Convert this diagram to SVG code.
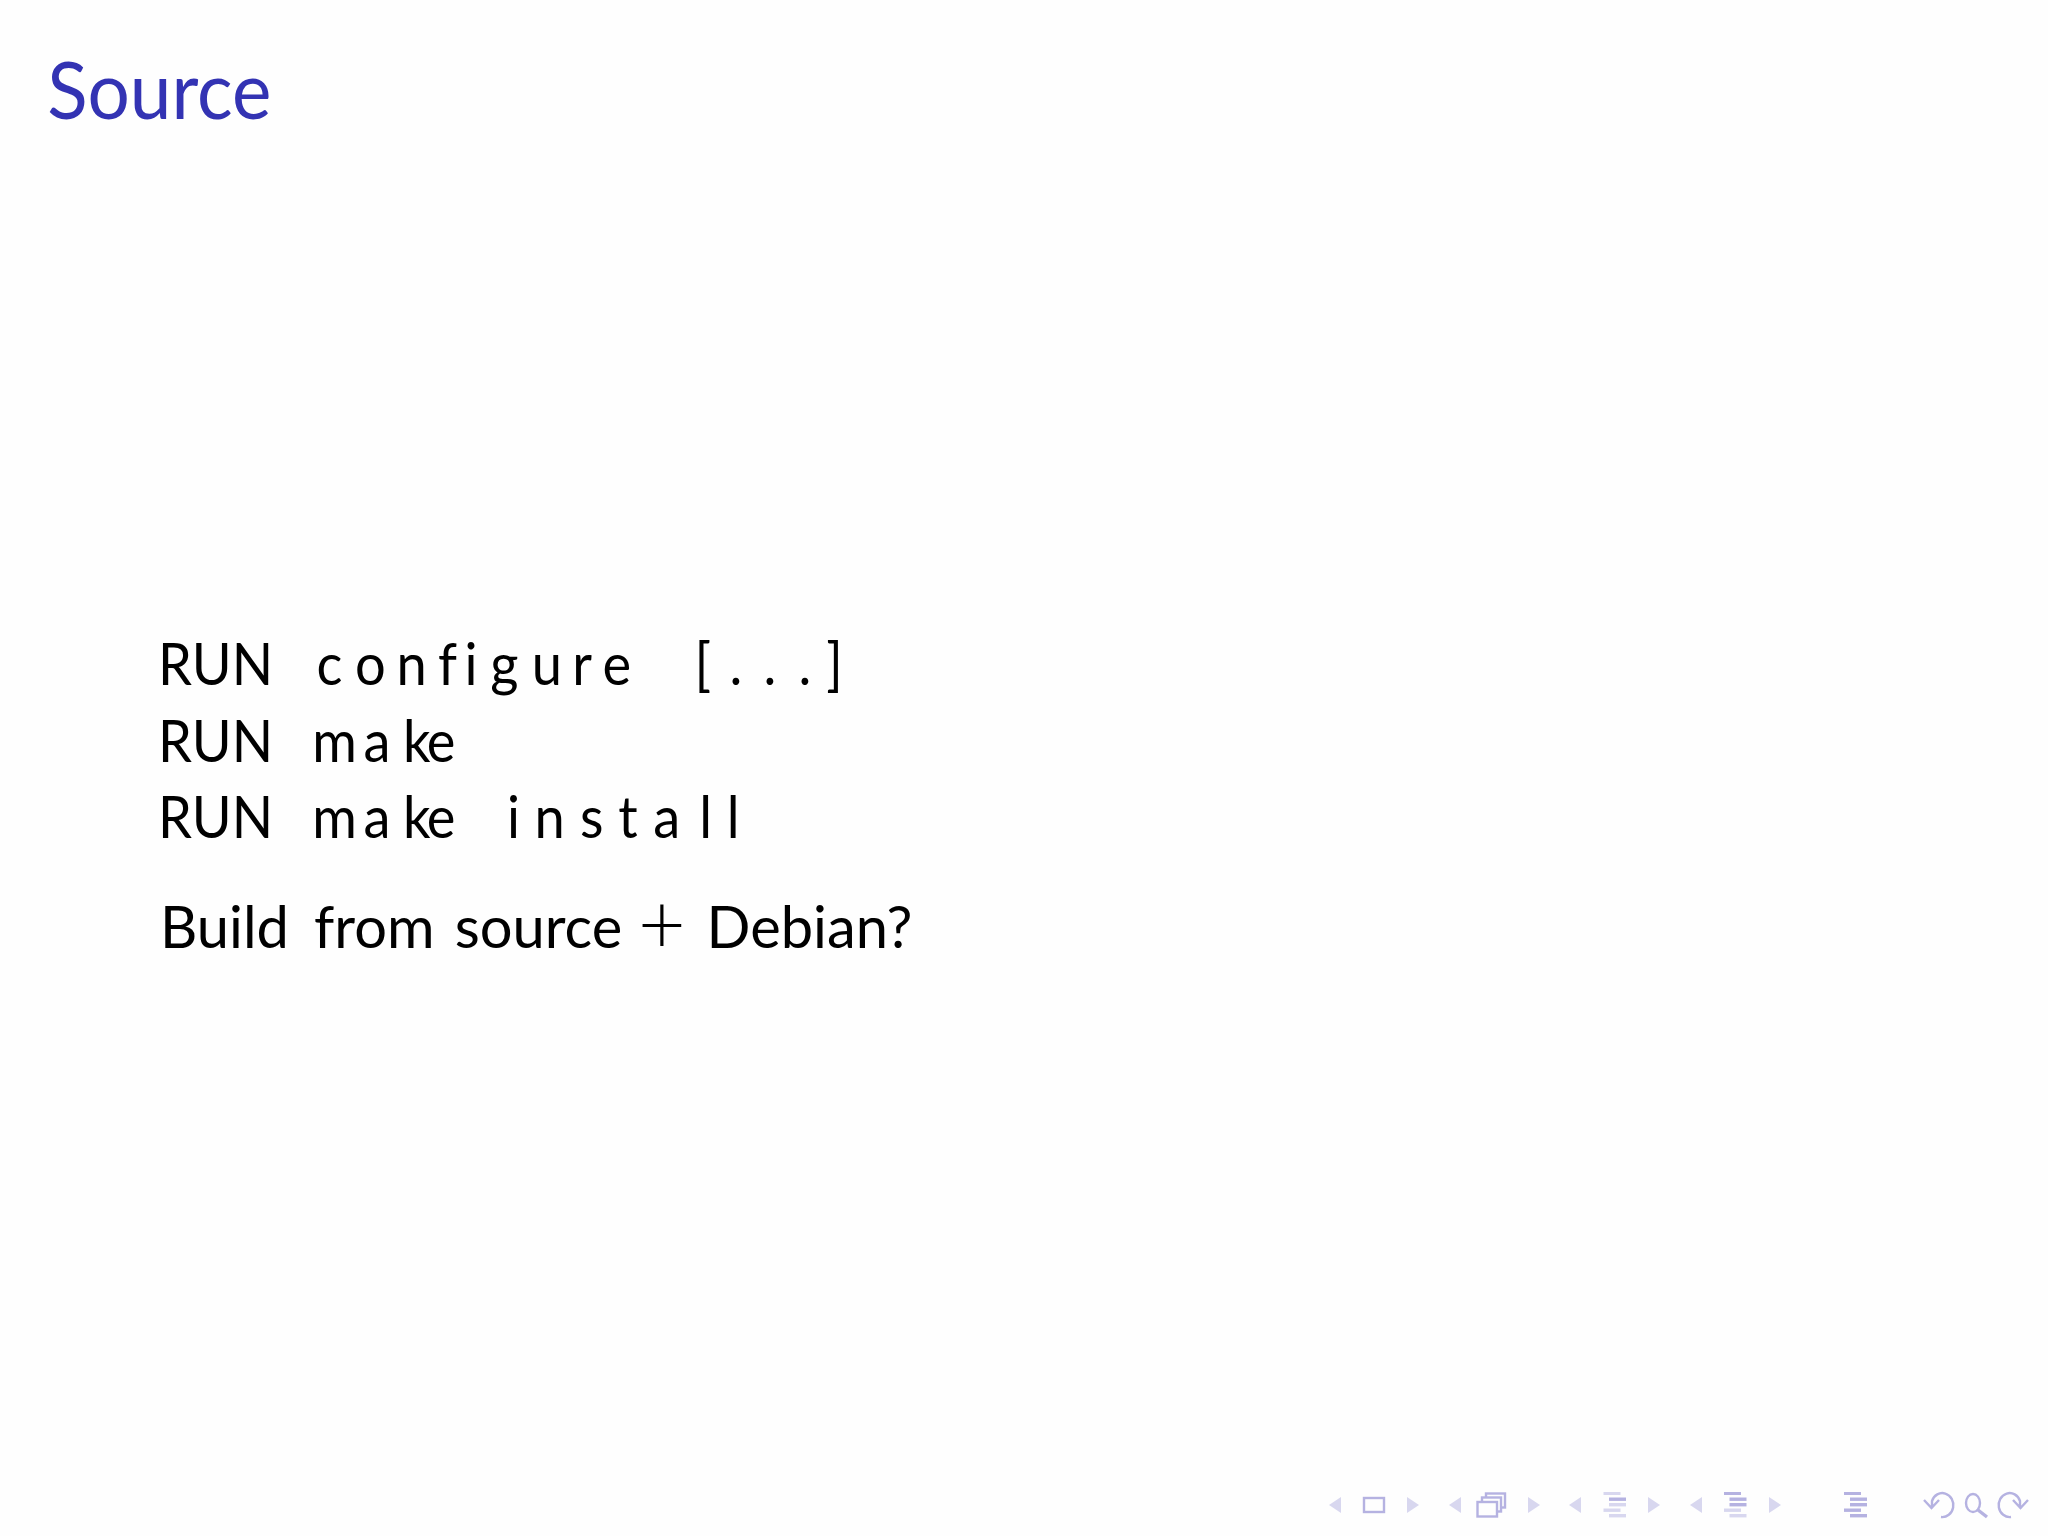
<svg xmlns="http://www.w3.org/2000/svg" width="2048" height="1536" viewBox="0 0 2048 1536">
<style>
.t{font-family:"Lato","Liberation Sans",Arial,sans-serif;font-size:59px;fill:#000}
.h{font-family:"Lato","Liberation Sans",Arial,sans-serif;font-size:79px;fill:#3333b3}
.lt{fill:#d8d7ef}
.dk{fill:#b5b2e1}
.ln{fill:none;stroke:#b5b2e1;stroke-width:2.4}
</style>
<defs>
<polygon id="tl" points="-6,0 6,-8 6,8"/>
<polygon id="tr" points="6,0 -6,-8 -6,8"/>
</defs>
<rect width="2048" height="1536" fill="#fefefe"/>
<g id="title"><text class="h" transform="scale(.945 1)" x="50" y="119">Source</text></g>
<g id="code">
<text class="t" transform="scale(.92 1)" y="685"><tspan x="171.800">RUN </tspan><tspan x="344 386 431 476 505 533 578 622 655 704">configure </tspan><tspan x="755 793 830 868 898">[...]</tspan></text>
<text class="t" transform="scale(.92 1)" y="762"><tspan x="171.800">RUN </tspan><tspan x="339.500 395 438 464">make</tspan></text>
<text class="t" transform="scale(.92 1)" y="838"><tspan x="171.800">RUN </tspan><tspan x="339.500 395 438 464 514">make </tspan><tspan x="551 581 630.500 672 710 760 790">install</tspan></text>
</g>
<g id="note"><text class="t" transform="scale(.98 1)" y="948"><tspan x="163.300">Build </tspan><tspan x="320.500">from </tspan><tspan x="464">source </tspan><tspan x="651" dy="6" style="font-size:84px;font-weight:300">+ </tspan><tspan x="721" dy="-6">Debian?</tspan></text></g>
<g id="nav">
<use href="#tl" class="lt" x="1335" y="1505"/>
<rect x="1364" y="1498" width="20" height="14" class="ln"/>
<use href="#tr" class="lt" x="1413" y="1505"/>
<use href="#tl" class="lt" x="1455" y="1505"/>
<rect x="1486" y="1493.500" width="19" height="14" class="ln"/>
<rect x="1482" y="1497.500" width="19" height="14" class="ln" style="fill:#fefefe"/>
<rect x="1477.500" y="1502" width="19.500" height="14.500" class="ln" style="fill:#fefefe"/>
<use href="#tr" class="lt" x="1534" y="1505"/>
<use href="#tl" class="lt" x="1575" y="1505"/>
<rect x="1603.500" y="1492" width="17" height="3" class="lt"/>
<rect x="1609" y="1497.500" width="17" height="3.400" class="dk"/>
<rect x="1609" y="1503" width="17" height="3.400" class="lt"/>
<rect x="1603.500" y="1508.500" width="17" height="3.400" class="lt"/>
<rect x="1609" y="1514" width="17" height="3.400" class="lt"/>
<use href="#tr" class="lt" x="1654" y="1505"/>
<use href="#tl" class="lt" x="1696" y="1505"/>
<rect x="1724" y="1492" width="17" height="3" class="dk"/>
<rect x="1729.500" y="1497.500" width="17" height="3.400" class="dk"/>
<rect x="1729.500" y="1503" width="17" height="3.400" class="dk"/>
<rect x="1724" y="1508.500" width="17" height="3.400" class="lt"/>
<rect x="1729.500" y="1514" width="17" height="3.400" class="lt"/>
<use href="#tr" class="lt" x="1775" y="1505"/>
<rect x="1844" y="1492" width="17" height="3" class="dk"/>
<rect x="1850" y="1497.500" width="17" height="3.400" class="dk"/>
<rect x="1850" y="1503" width="17" height="3.400" class="dk"/>
<rect x="1844" y="1508.500" width="17" height="3.400" class="dk"/>
<rect x="1850" y="1514" width="17" height="3.400" class="dk"/>
<path class="ln" d="M1932 1507 V1501 A11 12 0 1 1 1941 1517 M1924 1500 L1931.500 1508 L1939 1500"/>
<ellipse class="ln" cx="1973" cy="1503" rx="7" ry="9"/>
<path class="ln" d="M1978 1510 L1987 1517" style="stroke-width:3.400"/>
<path class="ln" d="M2020 1507 V1501 A11 12 0 1 0 2011 1517 M2028 1500 L2020.500 1508 L2013 1500"/>
</g>
</svg>
